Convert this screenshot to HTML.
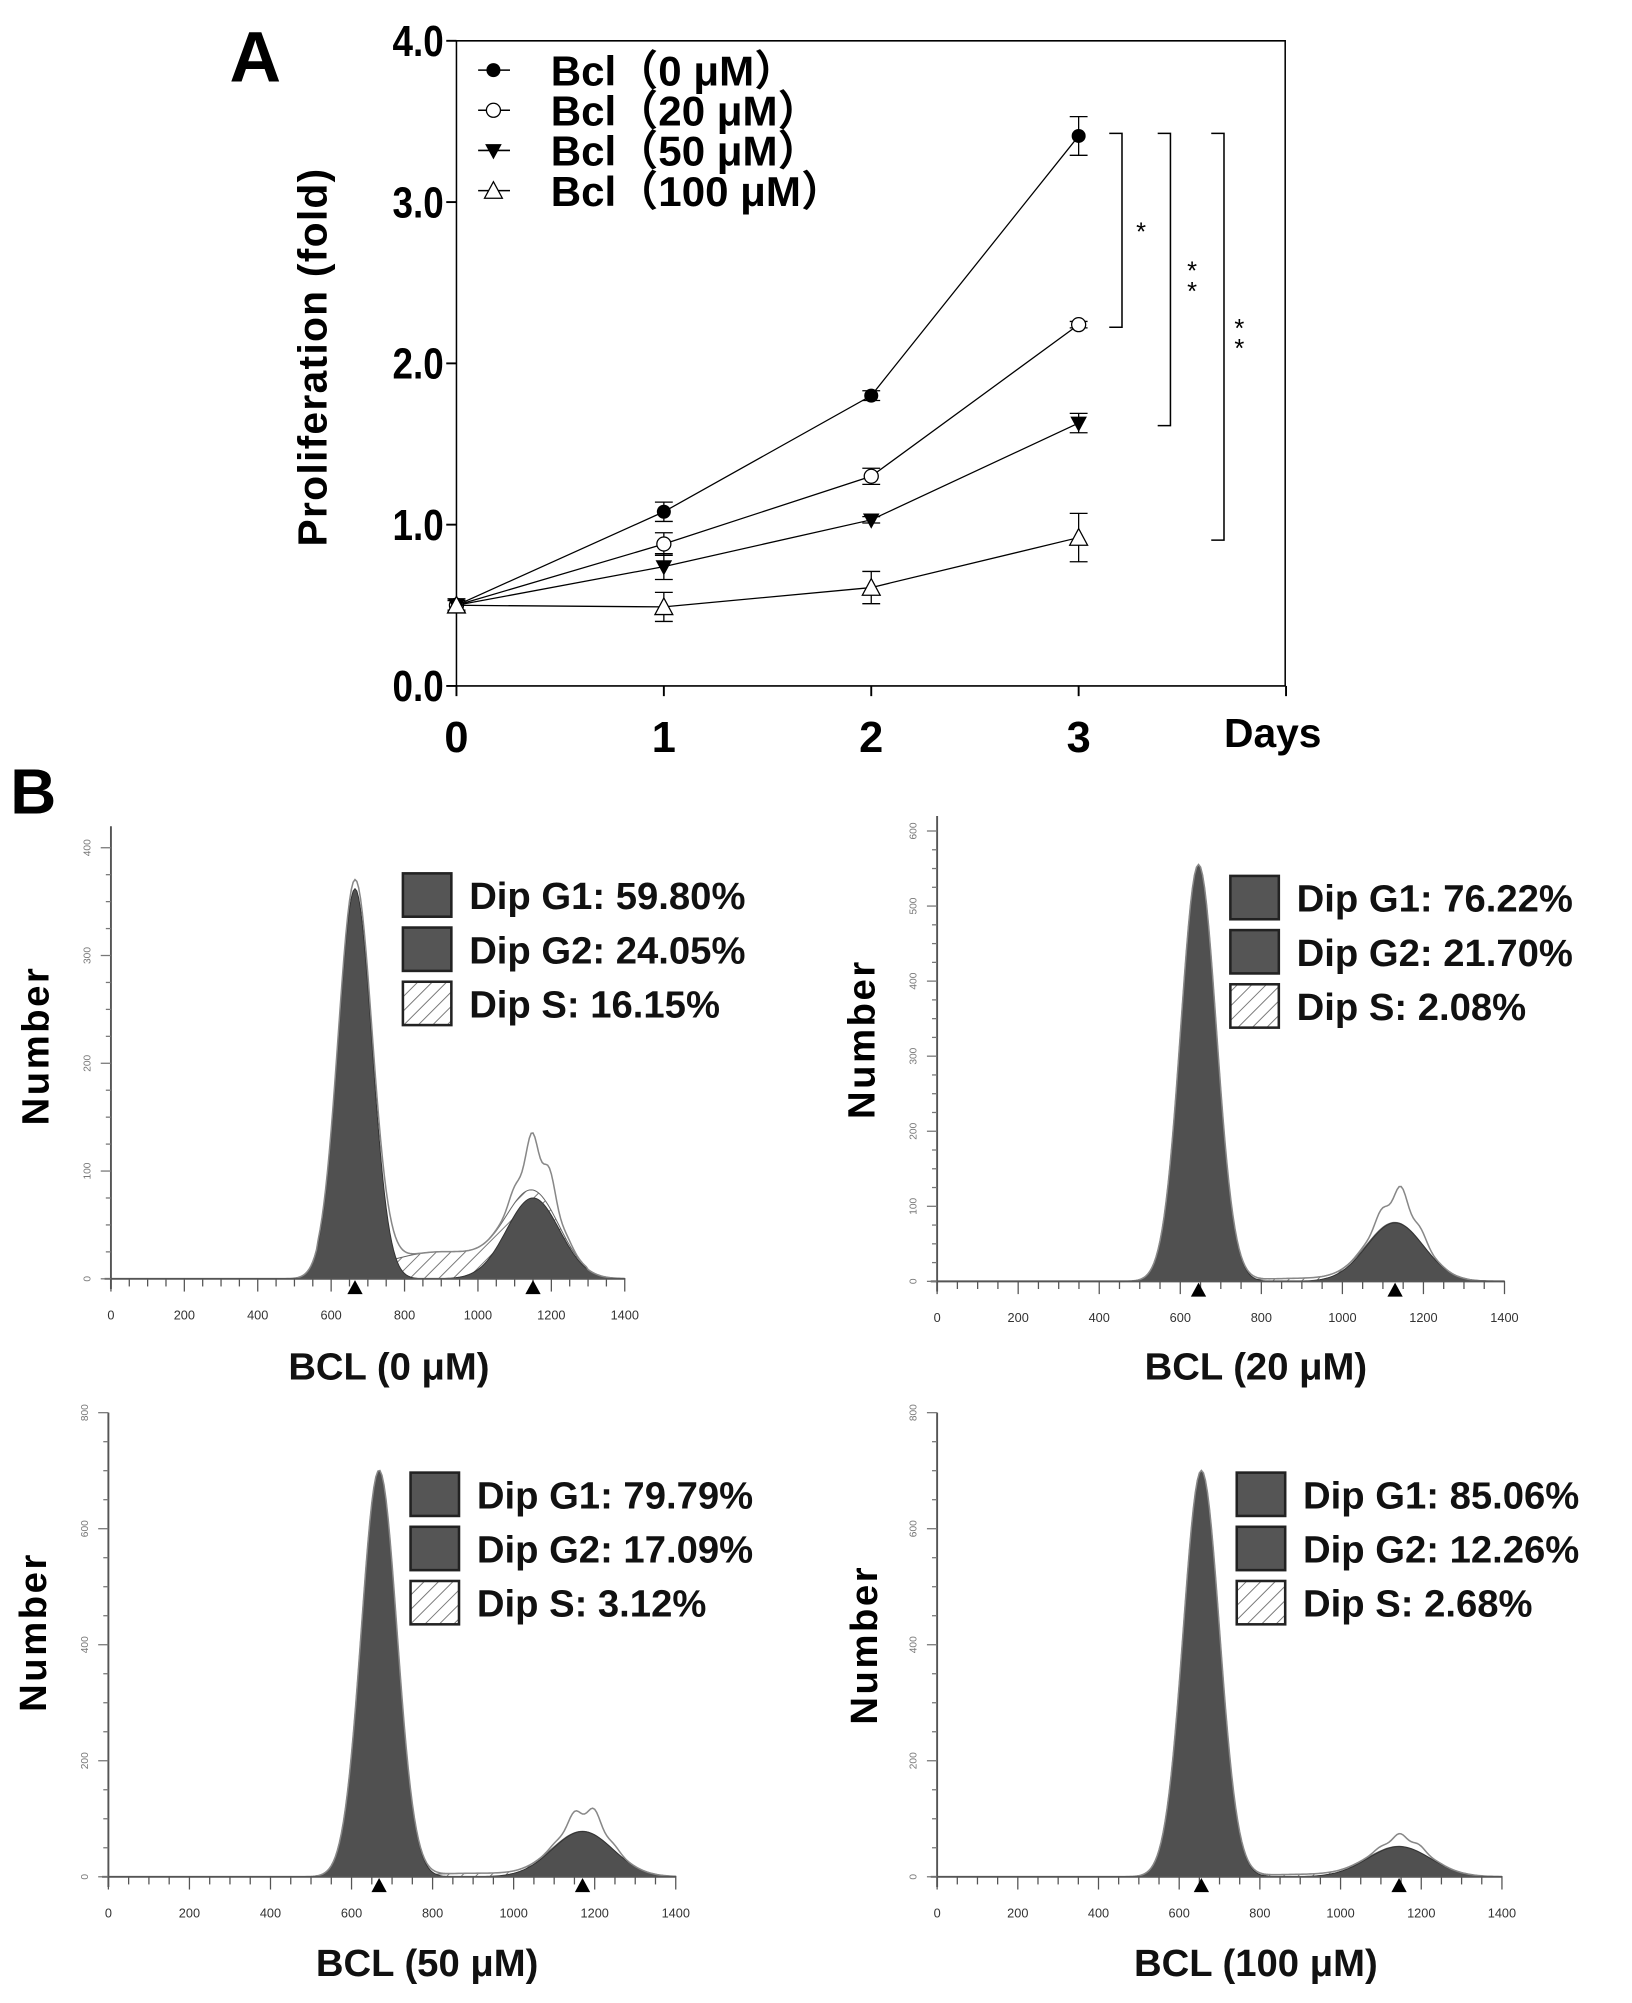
<!DOCTYPE html>
<html><head><meta charset="utf-8"><style>
html,body{margin:0;padding:0;background:#fff}
svg{display:block}
</style></head><body>
<svg id="fig" xmlns="http://www.w3.org/2000/svg" width="1632" height="2003" viewBox="0 0 1280 1571" font-family="Liberation Sans, sans-serif">
<defs>
<pattern id="hatch" width="8" height="8" patternUnits="userSpaceOnUse" patternTransform="rotate(45)">
<rect width="8" height="8" fill="#fff"/><line x1="0" y1="0" x2="0" y2="8" stroke="#777" stroke-width="1.5"/>
</pattern>
</defs>
<text x="180" y="64" font-size="56" font-weight="bold">A</text>
<text x="8" y="638" font-size="50" font-weight="bold">B</text>
<g id="pa"></g>
<g id="pb"></g>
</svg>
<script>
// ---- Panel A data ----
const days = [0, 1, 2, 3];
const seriesNames = ["Bcl\uFF080 \u03BCM\uFF09", "Bcl\uFF0820 \u03BCM\uFF09", "Bcl\uFF0850 \u03BCM\uFF09", "Bcl\uFF08100 \u03BCM\uFF09"];
const bcl0 = [0.50, 1.08, 1.80, 3.41];
const bcl20 = [0.50, 0.88, 1.30, 2.24];
const bcl50 = [0.50, 0.74, 1.03, 1.63];
const bcl100 = [0.50, 0.49, 0.61, 0.92];
const err0 = [0.04, 0.06, 0.03, 0.12];
const err20 = [0.03, 0.07, 0.05, 0.02];
const err50 = [0.03, 0.08, 0.02, 0.06];
const err100 = [0.04, 0.09, 0.10, 0.15];
const yTicks = [0, 1, 2, 3, 4];
const yTickLabels = ["0.0", "1.0", "2.0", "3.0", "4.0"];
const sigLabels = ["*", "**", "**"];
const sigTo = [bcl20[3], bcl50[3], bcl100[3]];

// ---- Panel B data ----
const panelTitles = ["BCL (0 \u03BCM)", "BCL (20 \u03BCM)", "BCL (50 \u03BCM)", "BCL (100 \u03BCM)"];
const g1Pct = ["59.80%", "76.22%", "79.79%", "85.06%"];
const g2Pct = ["24.05%", "21.70%", "17.09%", "12.26%"];
const sPct = ["16.15%", "2.08%", "3.12%", "2.68%"];
const yMaxVal = [420, 620, 800, 800];
const yTickStep = [100, 100, 200, 200];
const g1Mean = [665, 645, 668, 655];
const g1Height = [362, 555, 700, 700];
const g1Sd = [46, 44, 44, 45];
const g2Mean = [1150, 1130, 1170, 1145];
const g2Height = [75, 78, 78, 52];
const g2Sd = [72, 70, 75, 78];
const sMean = [900, 900, 900, 900];
const sHeight = [25, 4, 6, 4];
const sSd = [160, 120, 120, 120];
const rawG2Extra = [45, 40, 40, 18];

const NS = "http://www.w3.org/2000/svg";
function mk(parent, tag, attrs, text) {
  const e = document.createElementNS(NS, tag);
  for (const k in attrs) e.setAttribute(k, attrs[k]);
  if (text !== undefined) e.textContent = text;
  parent.appendChild(e);
  return e;
}

// ---- Draw Panel A ----
(function () {
  const g = document.getElementById('pa');
  const X0 = 358, X3 = 846, Y0 = 538, Y4 = 32;
  const xs = d => X0 + (X3 - X0) * d / 3;
  const ys = v => Y0 - (Y0 - Y4) * v / 4;
  let e;
  e = mk(g, 'path', { d: `M${X0},${Y4}H1008V${Y0}M${X0},${Y4}V${Y0}H1008`, fill: 'none', stroke: '#000', 'stroke-width': 1.2 });
   
  yTicks.forEach((t, i) => {
    e = mk(g, 'line', { x1: X0 - 8, x2: X0, y1: ys(t), y2: ys(t), stroke: '#000', 'stroke-width': 1.5 });
     
    e = mk(g, 'text', { x: X0 - 10, y: ys(t) + 12, 'font-size': 34, 'font-weight': 'bold', 'text-anchor': 'end', transform: `translate(${X0 - 10},${ys(t)}) scale(0.85,1) translate(${-(X0 - 10)},${-ys(t)})` }, yTickLabels[i]);
     
  });
  [0, 1, 2, 3, 4].forEach(d => {
    const x = X0 + (X3 - X0) * d / 3;
    e = mk(g, 'line', { x1: x, x2: x, y1: Y0, y2: Y0 + 8, stroke: '#000', 'stroke-width': 1.5 });
     
  });
  days.forEach(d => {
    e = mk(g, 'text', { x: xs(d), y: Y0 + 52, 'font-size': 34, 'font-weight': 'bold', 'text-anchor': 'middle' }, String(d));
     
  });
  e = mk(g, 'text', { x: 960, y: Y0 + 48, 'font-size': 32, 'font-weight': 'bold' }, 'Days');
   
  e = mk(g, 'text', { x: 0, y: 0, 'font-size': 32, 'font-weight': 'bold', 'text-anchor': 'middle', 'letter-spacing': 1, transform: 'translate(256,280) rotate(-90)' }, 'Proliferation (fold)');
   

  const all = [bcl0, bcl20, bcl50, bcl100], errs = [err0, err20, err50, err100];
  const markerKinds = ['fcircle', 'ocircle', 'ftri', 'otri'];
  function marker(par, kind, x, y, name) {
    let m;
    if (kind === 'fcircle') m = mk(par, 'circle', { cx: x, cy: y, r: 5.5, fill: '#000' });
    else if (kind === 'ocircle') m = mk(par, 'circle', { cx: x, cy: y, r: 5.5, fill: '#fff', stroke: '#000', 'stroke-width': 1 });
    else if (kind === 'ftri') m = mk(par, 'path', { d: `M${x - 6.5},${y - 5}H${x + 6.5}L${x},${y + 7}Z`, fill: '#000' });
    else m = mk(par, 'path', { d: `M${x - 7},${y + 6}H${x + 7}L${x},${y - 7}Z`, fill: '#fff', stroke: '#000', 'stroke-width': 1 });
     
  }
  all.forEach((s, si) => {
    const sg = mk(g, 'g', {});
     
    e = mk(sg, 'polyline', { points: s.map((v, i) => xs(days[i]) + ',' + ys(v)).join(' '), fill: 'none', stroke: '#000', 'stroke-width': 1 });
     
    s.forEach((v, i) => {
      const x = xs(days[i]), y1 = ys(v + errs[si][i]), y2 = ys(v - errs[si][i]);
      e = mk(sg, 'path', { d: `M${x},${y1}V${y2}M${x - 7},${y1}H${x + 7}M${x - 7},${y2}H${x + 7}`, stroke: '#000', 'stroke-width': 1, fill: 'none' });
       
      marker(sg, markerKinds[si], x, ys(v), 'data-point');
    });
  });
  seriesNames.forEach((n, i) => {
    const y = 55 + i * 31.5;
    const lg = mk(g, 'g', {});
     
    mk(lg, 'line', { x1: 375, x2: 400, y1: y, y2: y, stroke: '#000', 'stroke-width': 1.2 });
    marker(lg, markerKinds[i], 387, y, 'legend-marker');
    e = mk(lg, 'text', { x: 432, y: y + 12, 'font-size': 33, 'font-weight': 'bold', 'font-family': 'Liberation Sans, Noto Sans CJK SC, sans-serif' }, n);
     
  });
  const bx = [870, 908, 950], ax = [895, 935, 972];
  sigTo.forEach((v, i) => {
    const yt = ys(bcl0[3]) - 2, yb = ys(v) + 2;
    e = mk(g, 'path', { d: `M${bx[i]},${yt}H${bx[i] + 10}V${yb}H${bx[i]}`, fill: 'none', stroke: '#000', 'stroke-width': 1.2 });
     
    const mid = (yt + yb) / 2;
    sigLabels[i].split('').forEach((c, k, arr) => {
      e = mk(g, 'text', { x: ax[i], y: mid + 8 + (k - (arr.length - 1) / 2) * 16, 'font-size': 20, 'text-anchor': 'middle' }, c);
       
    });
  });
})();

// ---- Draw Panel B ----
(function () {
  const root = document.getElementById('pb');
  const boxes = [
    { ax: 87, x1: 490, y0: 1003, ytop: 648, lx: 316, ly: 685, tx: 305, ty: 1082, nx: 38, ny: 820 },
    { ax: 735, x1: 1180, y0: 1005, ytop: 640, lx: 965, ly: 687, tx: 985, ty: 1082, nx: 686, ny: 815 },
    { ax: 85, x1: 530, y0: 1472, ytop: 1108, lx: 322, ly: 1155, tx: 335, ty: 1550, nx: 36, ny: 1280 },
    { ax: 735, x1: 1178, y0: 1472, ytop: 1108, lx: 970, ly: 1155, tx: 985, ty: 1550, nx: 688, ny: 1290 }
  ];
  const gauss = (x, m, h, s) => h * Math.exp(-0.5 * ((x - m) / s) ** 2);
  boxes.forEach((b, p) => {
    const g = mk(root, 'g', {});
     
    const xs = v => b.ax + (b.x1 - b.ax) * v / 1400;
    const ys = v => b.y0 - (b.y0 - b.ytop) * v / yMaxVal[p];
    let e;
    const G1 = [], G2 = [], S = [], RAW = [];
    for (let v = 400; v <= 1400; v += 5) {
      const a = gauss(v, g1Mean[p], g1Height[p], g1Sd[p]);
      const c = gauss(v, g2Mean[p], g2Height[p], g2Sd[p]);
      const s = (v > 560 && v < 1300) ? gauss(v, sMean[p], sHeight[p], sSd[p]) : 0;
      G1.push([v, a]); G2.push([v, c]); S.push([v, s]);
      RAW.push([v, a + c + s + gauss(v, g2Mean[p] + 10, rawG2Extra[p], 40) * (1 + 0.25 * Math.sin(v / 9))]);
    }
    const area = arr => 'M' + arr.map(q => xs(q[0]) + ',' + ys(q[1])).join('L') + `L${xs(1400)},${b.y0}L${xs(400)},${b.y0}Z`;
    const line = arr => 'M' + arr.map(q => xs(q[0]) + ',' + ys(q[1])).join('L');
    e = mk(g, 'path', { d: area(S.map((q, i) => [q[0], q[1] + G2[i][1]])), fill: 'url(#hatch)', stroke: '#666', 'stroke-width': 0.8 });
     
    e = mk(g, 'path', { d: area(G1), fill: '#505050', stroke: '#333', 'stroke-width': 0.8 });
     
    e = mk(g, 'path', { d: area(G2), fill: '#505050', stroke: '#333', 'stroke-width': 0.8 });
     
    e = mk(g, 'path', { d: line(RAW), fill: 'none', stroke: '#888', 'stroke-width': 1.2 });
     
    e = mk(g, 'path', { d: `M${b.ax},${b.ytop}V${b.y0 + 8}M${b.ax - 5},${b.y0}H${b.x1}`, stroke: '#555', 'stroke-width': 1.5, fill: 'none' });
     
    for (let v = 0; v <= yMaxVal[p]; v += yTickStep[p] / 4) {
      const major = v % yTickStep[p] === 0;
      mk(g, 'line', { x1: b.ax - (major ? 8 : 4), x2: b.ax, y1: ys(v), y2: ys(v), stroke: '#777', 'stroke-width': 1 });
      if (major) {
        e = mk(g, 'text', { x: 0, y: 0, 'font-size': 8, fill: '#777', 'text-anchor': 'middle', transform: `translate(${b.ax - 16},${ys(v)}) rotate(-90)` }, String(v));
         
      }
    }
    for (let v = 0; v <= 1400; v += 50) {
      const major = v % 200 === 0;
      mk(g, 'line', { x1: xs(v), x2: xs(v), y1: b.y0, y2: b.y0 + (major ? 10 : 6), stroke: '#555', 'stroke-width': 1 });
      if (major) {
        e = mk(g, 'text', { x: xs(v), y: b.y0 + 32, 'font-size': 10, fill: '#333', 'text-anchor': 'middle' }, String(v));
         
      }
    }
    [g1Mean[p], g2Mean[p]].forEach(m => {
      e = mk(g, 'path', { d: `M${xs(m) - 6},${b.y0 + 12}L${xs(m) + 6},${b.y0 + 12}L${xs(m)},${b.y0 + 1}Z`, fill: '#000' });
       
    });
    const labels = ['Dip G1: ' + g1Pct[p], 'Dip G2: ' + g2Pct[p], 'Dip S: ' + sPct[p]];
    labels.forEach((t, i) => {
      const y = b.ly + i * 42.5;
      const lg = mk(g, 'g', {});
       
      mk(lg, 'rect', { x: b.lx, y: y, width: 38, height: 34, fill: i < 2 ? '#555' : 'url(#hatch)', stroke: '#222', 'stroke-width': 2 });
      e = mk(lg, 'text', { x: b.lx + 52, y: y + 28, 'font-size': 30, 'font-weight': 'bold', fill: '#111' }, t);
       
    });
    e = mk(g, 'text', { x: b.tx, y: b.ty, 'font-size': 30, 'font-weight': 'bold', 'text-anchor': 'middle', fill: '#111' }, panelTitles[p]);
     
    e = mk(g, 'text', { x: 0, y: 0, 'font-size': 30, 'font-weight': 'bold', 'text-anchor': 'middle', 'letter-spacing': 2, transform: `translate(${b.nx},${b.ny}) rotate(-90)` }, 'Number');
     
  });
})();
</script>
</body></html>
